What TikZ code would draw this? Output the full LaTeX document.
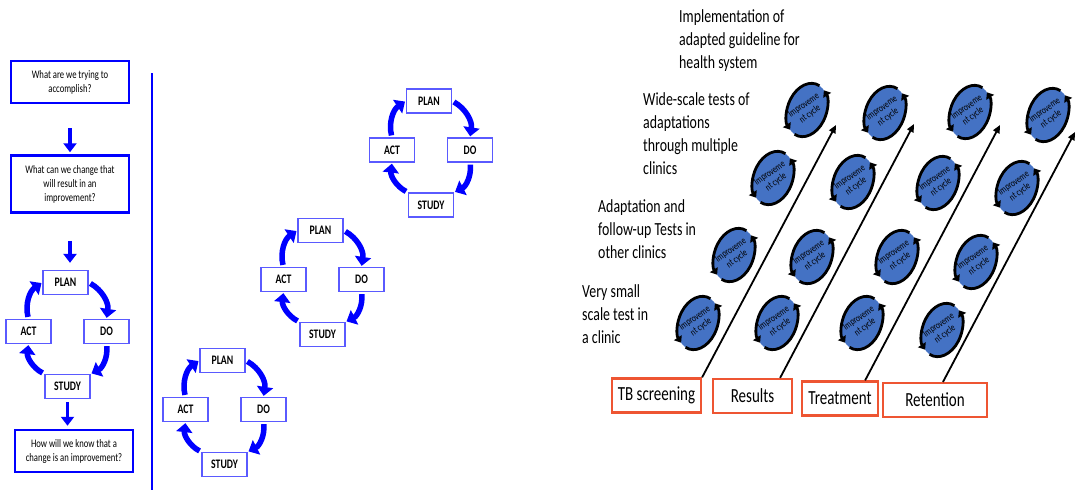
\documentclass[tikz,border=0pt]{standalone}
\usepackage{fontspec}
\setmainfont{Carlito}[FakeStretch=0.75]
\usetikzlibrary{arrows.meta,positioning}
\definecolor{pdsablue}{RGB}{0,0,255}
\definecolor{boxblue}{RGB}{90,90,255}
\definecolor{cyclefill}{RGB}{68,114,196}
\definecolor{stageorange}{RGB}{238,85,50}

\begin{document}
\begin{tikzpicture}[x=1pt,y=-1pt,
  question/.style={draw=pdsablue,line width=2.5pt,align=center,inner sep=2pt,
    minimum width=118pt,minimum height=42pt,font=\fontsize{11.5}{14}\selectfont},
  stage/.style={draw=boxblue,line width=1.3pt,fill=white,inner sep=0pt,
    minimum width=45pt,minimum height=24pt,font=\fontsize{13}{13}\selectfont\bfseries},
  flow/.style={draw=pdsablue,line width=3.5pt,-{Triangle[length=9pt,width=13pt]}},
  turn/.style={draw=pdsablue,line width=5.5pt,-{Triangle[length=9pt,width=16pt]},
    bend left=35,shorten <=2pt,shorten >=1pt},
  trial/.style={draw=stageorange,line width=2.2pt,inner sep=0pt,minimum height=34pt,
    font=\fontsize{20}{20}\selectfont},
  trend/.style={draw=black,line width=1.8pt,-{Triangle[length=8pt,width=7pt]}},
  note/.style={anchor=north west,inner sep=0pt,align=left,
    font=\fontsize{18.5}{23}\selectfont},
  ring/.style={draw=black,line width=2.8pt,-{Triangle[length=6pt,width=9pt]}},
  cycletext/.style={rotate=35,inner sep=0pt,align=center,
    font=\fontsize{10}{11}\selectfont},
  % one plan-do-study-act loop
  pdsa/.pic={
    \node[stage] (-plan) at (0,0) {PLAN};
    \node[stage] (-do) at (41,49) {DO};
    \node[stage] (-study) at (2,104) {STUDY};
    \node[stage] (-act) at (-37,49) {ACT};
    \draw[turn] (-plan.east) to (-do.north);
    \draw[turn] (-do.south) to (-study.north east);
    \draw[turn] (-study.north west) to (-act.south);
    \draw[turn] (-act.north) to (-plan.west);
  },
  % small tilted improvement cycle
  impcycle/.pic={
    \begin{scope}[rotate=-20]
      \fill[cyclefill] (0,0) ellipse [x radius=19.5, y radius=27.5];
      \draw[ring] (100:19.5 and 27.5) arc[start angle=100, end angle=-62, x radius=19.5, y radius=27.5];
      \draw[ring] (-80:19.5 and 27.5) arc[start angle=-80, end angle=-242, x radius=19.5, y radius=27.5];
    \end{scope}
    \node[cycletext] (-txt) at (0,0) {Improveme\\nt cycle};
  }
]
\useasboundingbox (0,0) rectangle (1076,493);

% left column: the three questions around one loop
\node[question] (aim) at (70,82) {What are we trying to\\accomplish?};
\node[question,minimum height=57pt] (change) at (70,184) {What can we change that\\will result in an\\improvement?};
\pic (left) at (65.5,282.5) {pdsa};
\node[question] (know) at (74,451) {How will we know that a\\change is an improvement?};

\draw[flow,shorten <=24pt,shorten >=2pt] (aim.south) -- (change.north);
\draw[flow,shorten <=27pt,shorten >=7pt] (change.south) -- (change.south |- left-plan.north);
\draw[flow,shorten <=3pt,shorten >=3pt] (left-study.south) -- (left-study.south |- know.north);

\draw[pdsablue,line width=2.5pt] (152,73) -- (152,490); % divider

% middle: loops climbing up
\pic (low) at (222.5,360.5) {pdsa};
\pic (mid) at (320.5,230.5) {pdsa};
\pic (high) at (429,101) {pdsa};

% right: scale-up levels
\node[note] (impl) at (679,9) {Implementation of\\adapted guideline for\\health system};
\node[note] (wide) at (643,92) {Wide-scale tests of\\adaptations\\through multiple\\clinics};
\node[note] (adapt) at (598,199) {Adaptation and\\follow-up Tests in\\other clinics};
\node[note] (small) at (582,284) {Very small\\scale test in\\a clinic};

\node[trial,minimum width=89pt] (tb) at (656.5,395.5) {TB screening};
\node[trial,minimum width=79pt] (res) at (752.5,396) {Results};
\node[trial,minimum width=76pt] (treat) at (840,398.5) {Treatment};
\node[trial,minimum width=104pt] (ret) at (935,400) {Retention};

\coordinate (top1) at (836,125);
\coordinate (top2) at (914,124);
\coordinate (top3) at (1000,125);
\coordinate (top4) at (1075,132);
\draw[trend] (tb.north east) -- (top1);
\draw[trend] ([xshift=-13pt]res.north east) -- (top2);
\draw[trend] ([xshift=-14pt]treat.north east) -- (top3);
\draw[trend] ([xshift=8pt]ret.north) -- (top4);

% screening column
\pic (cyc11) at (698,323) {impcycle};
\pic (cyc12) at (734,255) {impcycle};
\pic (cyc13) at (773,178) {impcycle};
\pic (cyc14) at (807,110) {impcycle};
% results column
\pic (cyc21) at (777,323) {impcycle};
\pic (cyc22) at (812,257) {impcycle};
\pic (cyc23) at (853,182) {impcycle};
\pic (cyc24) at (885,113) {impcycle};
% treatment column
\pic (cyc31) at (862,323) {impcycle};
\pic (cyc32) at (897,257) {impcycle};
\pic (cyc33) at (938,183) {impcycle};
\pic (cyc34) at (970,112) {impcycle};
% retention column
\pic (cyc41) at (942,330) {impcycle};
\pic (cyc42) at (976,262) {impcycle};
\pic (cyc43) at (1017,188) {impcycle};
\pic (cyc44) at (1048,115) {impcycle};
\end{tikzpicture}
\end{document}
